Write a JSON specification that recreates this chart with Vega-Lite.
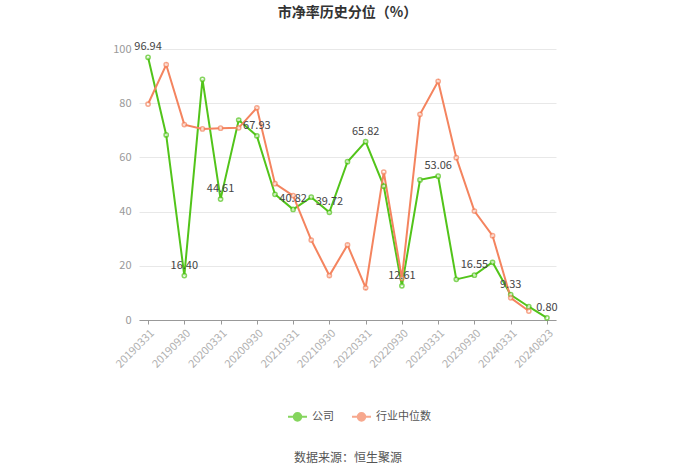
{
  "$schema": "https://vega.github.io/schema/vega-lite/v6.json",
  "autosize": "none",
  "width": 417,
  "height": 271,
  "padding": {"left": 139, "top": 49, "right": 144, "bottom": 154},
  "background": "white",
  "config": {
    "font": "Noto Sans CJK SC",
    "view": {"stroke": null}
  },
  "title": {
    "text": "市净率历史分位（%）",
    "fontSize": 14,
    "fontWeight": "bold",
    "color": "#333333",
    "offset": 21,
    "anchor": "middle"
  },
  "datasets": {
    "rows": [
      {"date": "20190331", "series": "公司", "value": 96.94, "label": "96.94"},
      {"date": "20190630", "series": "公司", "value": 68.3},
      {"date": "20190930", "series": "公司", "value": 16.40, "label": "16.40"},
      {"date": "20191231", "series": "公司", "value": 88.8},
      {"date": "20200331", "series": "公司", "value": 44.61, "label": "44.61"},
      {"date": "20200630", "series": "公司", "value": 73.8},
      {"date": "20200930", "series": "公司", "value": 67.93, "label": "67.93"},
      {"date": "20201231", "series": "公司", "value": 46.4},
      {"date": "20210331", "series": "公司", "value": 40.82, "label": "40.82"},
      {"date": "20210630", "series": "公司", "value": 45.3},
      {"date": "20210930", "series": "公司", "value": 39.72, "label": "39.72"},
      {"date": "20211231", "series": "公司", "value": 58.4},
      {"date": "20220331", "series": "公司", "value": 65.82, "label": "65.82"},
      {"date": "20220630", "series": "公司", "value": 49.4},
      {"date": "20220930", "series": "公司", "value": 12.61, "label": "12.61"},
      {"date": "20221231", "series": "公司", "value": 51.7},
      {"date": "20230331", "series": "公司", "value": 53.06, "label": "53.06"},
      {"date": "20230630", "series": "公司", "value": 15.0},
      {"date": "20230930", "series": "公司", "value": 16.55, "label": "16.55"},
      {"date": "20231231", "series": "公司", "value": 21.3},
      {"date": "20240331", "series": "公司", "value": 9.33, "label": "9.33"},
      {"date": "20240630", "series": "公司", "value": 4.9},
      {"date": "20240823", "series": "公司", "value": 0.80, "label": "0.80"},
      {"date": "20190331", "series": "行业中位数", "value": 79.7},
      {"date": "20190630", "series": "行业中位数", "value": 94.2},
      {"date": "20190930", "series": "行业中位数", "value": 72.1},
      {"date": "20191231", "series": "行业中位数", "value": 70.5},
      {"date": "20200331", "series": "行业中位数", "value": 70.8},
      {"date": "20200630", "series": "行业中位数", "value": 70.9},
      {"date": "20200930", "series": "行业中位数", "value": 78.3},
      {"date": "20201231", "series": "行业中位数", "value": 50.3},
      {"date": "20210331", "series": "行业中位数", "value": 45.9},
      {"date": "20210630", "series": "行业中位数", "value": 29.5},
      {"date": "20210930", "series": "行业中位数", "value": 16.4},
      {"date": "20211231", "series": "行业中位数", "value": 27.7},
      {"date": "20220331", "series": "行业中位数", "value": 11.9},
      {"date": "20220630", "series": "行业中位数", "value": 54.6},
      {"date": "20220930", "series": "行业中位数", "value": 15.4},
      {"date": "20221231", "series": "行业中位数", "value": 75.9},
      {"date": "20230331", "series": "行业中位数", "value": 88.1},
      {"date": "20230630", "series": "行业中位数", "value": 59.9},
      {"date": "20230930", "series": "行业中位数", "value": 40.2},
      {"date": "20231231", "series": "行业中位数", "value": 31.1},
      {"date": "20240331", "series": "行业中位数", "value": 8.2},
      {"date": "20240630", "series": "行业中位数", "value": 3.3}
    ]
  },
  "data": {"name": "rows"},
  "encoding": {
    "x": {
      "field": "date",
      "type": "ordinal",
      "sort": "ascending",
      "scale": {"type": "point", "padding": 0.5},
      "axis": {
        "values": ["20190331", "20190930", "20200331", "20200930", "20210331", "20210930", "20220331", "20220930", "20230331", "20230930", "20240331", "20240823"],
        "labelAngle": -45,
        "labelAlign": "right",
        "labelBaseline": "top",
        "labelColor": "#b0b0b0",
        "labelFontSize": 11,
        "labelPadding": 3,
        "domainColor": "#999999",
        "tickColor": "#999999",
        "tickSize": 4,
        "grid": false,
        "title": "数据来源：恒生聚源",
        "titleFontSize": 12,
        "titleFontWeight": "normal",
        "titleColor": "#555555",
        "titleY": 137,
        "titleBaseline": "middle"
      }
    },
    "y": {
      "field": "value",
      "type": "quantitative",
      "scale": {"domain": [0, 100]},
      "axis": {
        "values": [0, 20, 40, 60, 80, 100],
        "title": null,
        "domain": false,
        "ticks": false,
        "labelColor": "#999999",
        "labelFontSize": 11,
        "labelPadding": 8,
        "gridColor": "#e8e8e8"
      }
    },
    "color": {
      "field": "series",
      "type": "nominal",
      "scale": {"domain": ["公司", "行业中位数"], "range": ["#52c41a", "#f4845f"]},
      "legend": {
        "title": null,
        "orient": "none",
        "direction": "horizontal",
        "legendX": 148,
        "legendY": 357,
        "symbolType": "M-1,0L-0.4,0M0.4,0L1,0M0.4,0A0.4,0.4,0,1,1,-0.4,0A0.4,0.4,0,1,1,0.4,0Z",
        "symbolSize": 360,
        "symbolStrokeWidth": 2,
        "symbolFillColor": "white",
        "labelFontSize": 11,
        "labelColor": "#555555",
        "columnPadding": 14,
        "labelOffset": 4
      }
    }
  },
  "layer": [
    {"mark": {"type": "line", "strokeWidth": 2}},
    {"mark": {"type": "point", "shape": "circle", "filled": true, "fill": "white", "size": 18, "strokeWidth": 1.5}, "encoding": {"stroke": {"field": "series", "type": "nominal", "scale": {"domain": ["公司", "行业中位数"], "range": ["#52c41a", "#f4845f"]}, "legend": null}}},
    {
      "transform": [{"filter": "isValid(datum.label)"}],
      "mark": {"type": "text", "dy": -10, "fontSize": 11, "color": "#444444"},
      "encoding": {"text": {"field": "label"}, "color": {"value": "#444444"}}
    }
  ]
}
